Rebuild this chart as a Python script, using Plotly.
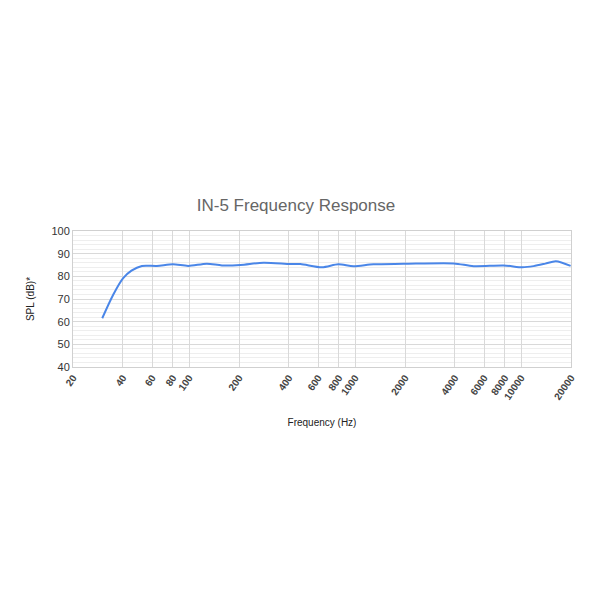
import plotly.graph_objects as go

freq_hz = [30, 35, 40, 45, 52, 64, 80, 99, 128, 158, 204, 281, 408, 469, 632, 793, 980,
           1290, 1955, 3930, 5180, 7870, 10200, 11900, 14000, 16200, 19900]
spl_db = [61.5, 72, 79.1, 82.5, 84.6, 84.6, 85.3, 84.6, 85.6, 84.8, 85.0, 86.0, 85.4, 85.4,
          84.0, 85.3, 84.4, 85.3, 85.5, 85.7, 84.5, 84.8, 84.0, 84.5, 85.6, 86.7, 84.6]

x_ticks = [20, 40, 60, 80, 100, 200, 400, 600, 800, 1000, 2000, 4000, 6000, 8000, 10000, 20000]
x_tick_labels = ["<b>%d</b>" % v for v in x_ticks]
y_ticks = [40, 50, 60, 70, 80, 90, 100]

fig = go.Figure()
fig.add_trace(go.Scatter(
    x=freq_hz, y=spl_db, mode="lines",
    line=dict(color="#4a86e8", width=2, shape="spline", smoothing=0.8),
    hoverinfo="skip", showlegend=False,
))

fig.update_layout(
    width=605, height=605,
    paper_bgcolor="white", plot_bgcolor="white",
    margin=dict(l=65, r=42, t=223, b=246),
    font=dict(family="Liberation Sans, Arial, sans-serif", color="#333333"),
    title=dict(text="IN-5 Frequency Response", x=(296 - 8) / 605, xanchor="center",
               y=1 - 197 / 605, yanchor="middle", yref="container",
               font=dict(size=17, color="#666666")),
    xaxis=dict(
        type="log", range=[1.30103, 4.30103],
        tickvals=x_ticks, ticktext=x_tick_labels, tickangle=-55,
        tickfont=dict(size=10, color="#444444"),
        showgrid=True, gridcolor="#d9d9d9", gridwidth=1,
        zeroline=False, showline=True, linecolor="#d0d0d0", mirror=True,
        ticks="", title=dict(text="Frequency (Hz)", font=dict(size=10, color="#222222"), standoff=18),
    ),
    yaxis=dict(
        range=[40, 100], tickvals=y_ticks,
        tickfont=dict(size=11, color="#333333"),
        showgrid=True, gridcolor="#d9d9d9", gridwidth=1,
        minor=dict(dtick=2, showgrid=True, gridcolor="#eeeeee", gridwidth=1),
        zeroline=False, showline=True, linecolor="#d0d0d0", mirror=True,
        ticks="", title=dict(text="SPL (dB)*", font=dict(size=10, color="#222222"), standoff=14),
    ),
)

fig.write_html("out.html")
